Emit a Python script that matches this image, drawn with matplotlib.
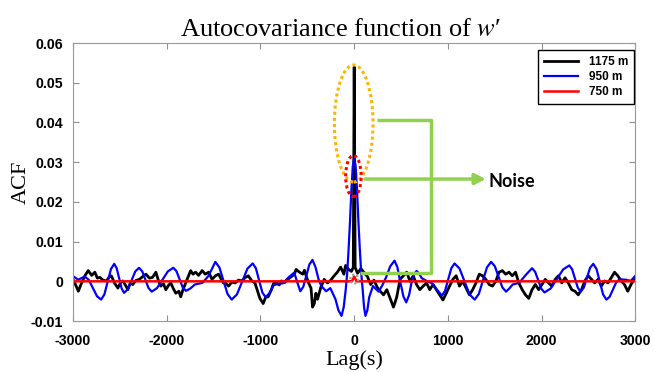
import numpy as np
import matplotlib
matplotlib.use("Agg")
import matplotlib.pyplot as plt
from matplotlib.patches import Ellipse

# (lag in s, ACF in units of 1e-3)
black_pts = [
    (-3000, 0.5), (-2970, -1.0), (-2943, -2.5), (-2910, -0.5), (-2870, 1.5), (-2838, 2.7),
    (-2800, 1.5), (-2767, 2.3), (-2740, 0.8), (-2714, 1.0), (-2680, 0.3), (-2644, 0.1),
    (-2610, 1.2), (-2591, 1.4), (-2555, -0.5), (-2521, -1.7), (-2490, -0.2), (-2468, 0.1),
    (-2440, -1.0), (-2415, -2.1), (-2390, -0.5), (-2362, -0.8), (-2330, 0.2), (-2292, 0.5),
    (-2255, 1.2), (-2221, 1.8), (-2185, 0.8), (-2151, 1.0), (-2116, 2.3), (-2090, 0.3),
    (-2063, -1.2), (-2035, -0.6), (-2010, -2.1), (-1980, -1.0), (-1957, -0.4), (-1930, -1.8),
    (-1904, -3.0), (-1870, -2.5), (-1851, -3.9), (-1825, -2.0), (-1798, -0.4), (-1770, 1.2),
    (-1745, 2.7), (-1720, 1.8), (-1692, 2.3), (-1660, 1.5), (-1622, 2.7), (-1590, 1.8),
    (-1552, 2.3), (-1517, 0.5), (-1480, 1.4), (-1446, 1.8), (-1420, 0.6), (-1394, -0.4),
    (-1370, -0.5), (-1341, -1.2), (-1305, -0.2), (-1270, -0.4), (-1235, 0.3), (-1200, 0.1),
    (-1165, 0.9), (-1130, 1.4), (-1095, 0.2), (-1059, -0.4), (-1030, -2.5), (-1006, -4.3),
    (-971, -5.6), (-945, -4.0), (-918, -3.9), (-883, -2.1), (-860, -0.5), (-830, -0.4),
    (-800, -0.9), (-777, 0.1), (-740, -0.3), (-707, 0.5), (-670, 1.2), (-637, 1.8),
    (-620, 3.0), (-584, 2.3), (-549, 1.8), (-531, 2.8), (-510, 1.2), (-485, -0.5),
    (-461, -1.7), (-444, -6.5), (-426, -5.6), (-409, -3.0), (-391, -4.5), (-356, -1.5),
    (-320, 0.5), (-285, -0.4), (-250, 0.3), (-214, 1.4), (-180, 2.3), (-145, 3.6),
    (-110, 1.8), (-92, 4.0), (-60, 3.0), (-30, 2.5), (-10, 3.5), (0, 54.0),
    (10, 3.5), (35, 2.0), (71, 3.2), (106, 2.2), (141, 1.2), (176, -0.8),
    (211, 0.3), (246, -1.5), (278, -2.5), (313, -3.4), (348, -2.1), (384, -4.3),
    (419, -6.5), (440, -5.0), (454, -3.9), (489, 0.5), (525, 1.4), (560, 2.3),
    (595, 0.0), (630, 1.4), (665, -0.8), (700, -2.1), (736, -1.2), (771, -0.4),
    (806, -2.1), (841, -0.8), (876, -2.1), (912, -3.4), (947, -4.7), (982, -3.0),
    (1017, -1.2), (1053, 0.5), (1088, 1.4), (1123, -1.2), (1158, 0.0), (1193, -1.7),
    (1229, -3.4), (1264, -2.1), (1299, -0.4), (1334, 1.8), (1369, 1.4), (1404, 0.5),
    (1440, -0.8), (1475, -1.2), (1510, 0.0), (1545, 2.3), (1580, 2.7), (1616, 1.8),
    (1651, 2.3), (1686, 1.4), (1721, 2.3), (1756, -0.4), (1792, -2.1), (1827, -3.4),
    (1862, -4.3), (1897, -2.1), (1932, -0.8), (1968, -2.1), (2003, -0.8), (2038, 0.5),
    (2073, -0.4), (2108, -1.2), (2144, 0.5), (2179, 1.4), (2214, -0.4), (2249, 0.9),
    (2284, -0.4), (2320, -2.1), (2355, -2.5), (2390, -3.4), (2425, -2.1), (2460, 0.1),
    (2496, 1.4), (2531, 0.5), (2566, -0.4), (2601, 0.5), (2636, -1.2), (2672, 0.1),
    (2707, -0.4), (2742, 0.9), (2777, 2.3), (2812, 1.4), (2848, 0.1), (2883, -0.8),
    (2918, -2.5), (2953, -0.8), (2988, 0.5), (3000, 0.3),
]

blue_pts = [
    (-3000, 1.3), (-2945, 0.4), (-2875, 1.2), (-2831, 0.35), (-2788, -1.7), (-2744, -3.75),
    (-2700, -4.6), (-2665, -3.3), (-2630, -0.1), (-2595, 3.1), (-2560, 4.4), (-2534, 3.3),
    (-2508, 0.75), (-2481, -1.8), (-2455, -2.9), (-2415, -2.0), (-2375, 0.25), (-2335, 2.5),
    (-2295, 3.4), (-2261, 2.5), (-2228, 0.4), (-2194, -1.7), (-2160, -2.6), (-2103, -1.7),
    (-2045, 0.4), (-1988, 2.5), (-1930, 3.4), (-1896, 2.55), (-1863, 0.5), (-1829, -1.55),
    (-1795, -2.4), (-1748, -1.8), (-1700, -0.8), (-1620, -0.4), (-1560, 1.2), (-1520, 3.0),
    (-1482, 4.9), (-1438, 3.5), (-1395, 0.15), (-1351, -3.2), (-1307, -4.6), (-1251, -3.3),
    (-1195, -0.05), (-1139, 3.2), (-1083, 4.5), (-1049, 3.3), (-1014, 0.25), (-980, -2.8),
    (-945, -4.0), (-905, -3.0), (-860, -1.0), (-810, -0.6), (-760, -0.5), (-700, 1.0),
    (-640, 2.2), (-608, -0.2), (-575, -2.5), (-543, -1.35), (-510, 1.45), (-478, 4.25),
    (-445, 5.4), (-412, 3.5), (-380, 0.5), (-350, -1.2), (-300, -2.5), (-255, -1.7),
    (-200, -4.5), (-168, -7.3), (-135, -8.7), (-112, -6.5), (-90, -2.0), (-75, 2.0),
    (-60, 8.0), (-45, 15.0), (-30, 23.0), (-15, 29.0), (0, 31.0), (15, 29.0),
    (30, 23.0), (45, 15.0), (60, 8.0), (75, 2.0), (90, -2.0), (105, -6.5),
    (120, -8.7), (140, -7.3), (160, -4.0), (200, -1.2), (260, -2.6), (300, -1.0),
    (340, 1.0), (385, 3.8), (430, 5.2), (460, 3.6), (490, 0.0), (525, -3.8),
    (555, -5.3), (585, -3.5), (610, -0.5), (640, 1.8), (665, 2.6), (692, 2.0),
    (720, 0.8), (780, 0.0), (830, -0.5), (880, -2.0), (935, -3.6), (969, -2.4),
    (1002, 0.45), (1036, 3.3), (1070, 4.5), (1124, 3.2), (1178, -0.05), (1231, -3.3),
    (1285, -4.6), (1329, -3.2), (1372, 0.15), (1416, 3.5), (1460, 4.9), (1500, 3.8),
    (1540, 1.15), (1580, -1.5), (1620, -2.6), (1655, -1.8), (1690, -0.8), (1760, -0.4),
    (1830, 1.6), (1897, 3.3), (1930, 2.4), (1963, 0.25), (1997, -1.9), (2030, -2.8),
    (2096, -1.8), (2162, 0.6), (2229, 3.0), (2295, 4.0), (2325, 3.0), (2355, 0.7),
    (2385, -1.6), (2415, -2.6), (2449, -1.6), (2482, 0.9), (2516, 3.4), (2550, 4.4),
    (2585, 3.1), (2620, -0.1), (2655, -3.3), (2690, -4.6), (2725, -3.9), (2760, -2.05),
    (2795, -0.25), (2830, 0.5), (2900, 0.4), (2950, 0.1), (3000, 1.4),
]

red_lag = [-3000, -25, 0, 25, 3000]
red_acf = [0.0, 0.0, 1.2, 0.0, 0.0]

series_labels = ["1175 m", "950 m", "750 m"]
x_ticks = [-3000, -2000, -1000, 0, 1000, 2000, 3000]
y_ticks = [-0.01, 0, 0.01, 0.02, 0.03, 0.04, 0.05, 0.06]
y_tick_labels = ["-0.01", "0", "0.01", "0.02", "0.03", "0.04", "0.05", "0.06"]

plt.rcParams["axes.unicode_minus"] = False
plt.rcParams["mathtext.fontset"] = "stix"

fig = plt.figure(figsize=(6.54, 3.72), dpi=100)
ax = fig.add_axes([0.1116, 0.137, 0.860, 0.7473])

black_lag, black_acf = np.array(black_pts).T
blue_lag, blue_acf = np.array(blue_pts).T

ax.plot(black_lag, black_acf * 1e-3, color="black", lw=2.0, label=series_labels[0])
ax.plot(blue_lag, blue_acf * 1e-3, color="#0000FF", lw=1.6, label=series_labels[1])
ax.plot(red_lag, np.array(red_acf) * 1e-3, color="#FF0000", lw=1.8, label=series_labels[2])

ax.set_xlim(-3000, 3000)
ax.set_ylim(-0.01, 0.06)
ax.set_xticks(x_ticks)
ax.set_yticks(y_ticks)
ax.set_yticklabels(y_tick_labels)
ax.tick_params(direction="in", top=True, right=True, length=4, color="#909090",
               labelsize=10.2)
ax.tick_params(axis="x", pad=9)
ax.tick_params(axis="y", pad=7)
for lab in ax.get_xticklabels() + ax.get_yticklabels():
    lab.set_fontweight("bold")
    lab.set_family("Liberation Sans")
for sp in ax.spines.values():
    sp.set_color("#9a9a9a")

ax.set_title(r"Autocovariance function of $w$′", fontsize=19, family="Liberation Serif",
             x=0.475, pad=5)
ax.set_xlabel("Lag(s)", fontsize=16, family="Liberation Serif", labelpad=2)
ax.set_ylabel("ACF", fontsize=16, family="Liberation Serif", labelpad=0)

leg = ax.legend(loc="upper right", bbox_to_anchor=(0.998, 0.975),
                prop={"family": "Liberation Sans", "weight": "bold", "size": 8.5},
                fancybox=False, edgecolor="black", framealpha=1, borderaxespad=0,
                handlelength=2.9, handletextpad=0.9, labelspacing=0.25, borderpad=0.5)
leg.get_frame().set_linewidth(1.0)

# annotations (axes fraction)
ax.add_patch(Ellipse((0.4991, 0.7104), 0.0687, 0.4209, transform=ax.transAxes, fill=False,
                     edgecolor="#FFB300", lw=2.2, linestyle=(0, (1, 1)), zorder=6))
ax.add_patch(Ellipse((0.4986, 0.5216), 0.0276, 0.1475, transform=ax.transAxes, fill=False,
                     edgecolor="#FF0000", lw=2.2, linestyle=(0, (1, 1)), zorder=6))
ax.add_patch(Ellipse((0.5, 0.151), 0.014, 0.0324, transform=ax.transAxes, fill=False,
                     edgecolor="#A0A0A0", lw=1.6, linestyle=(0, (1, 1)), zorder=6))

green = "#92D050"
ax.plot([0.5405, 0.6373, 0.6373, 0.5106], [0.723, 0.723, 0.1727, 0.1727],
        transform=ax.transAxes, color=green, lw=2.5, zorder=5, solid_capstyle="butt")
ax.annotate("", xy=(0.7342, 0.5108), xytext=(0.5194, 0.5108), xycoords="axes fraction",
            arrowprops=dict(arrowstyle="-|>", color=green, lw=2.5, mutation_scale=16,
                            shrinkA=0, shrinkB=0), zorder=5)
ax.text(0.738, 0.5036, "Noise", transform=ax.transAxes, fontsize=13, fontweight="bold",
        family="Lato", va="center", ha="left")

fig.savefig("out.png", dpi=100)
